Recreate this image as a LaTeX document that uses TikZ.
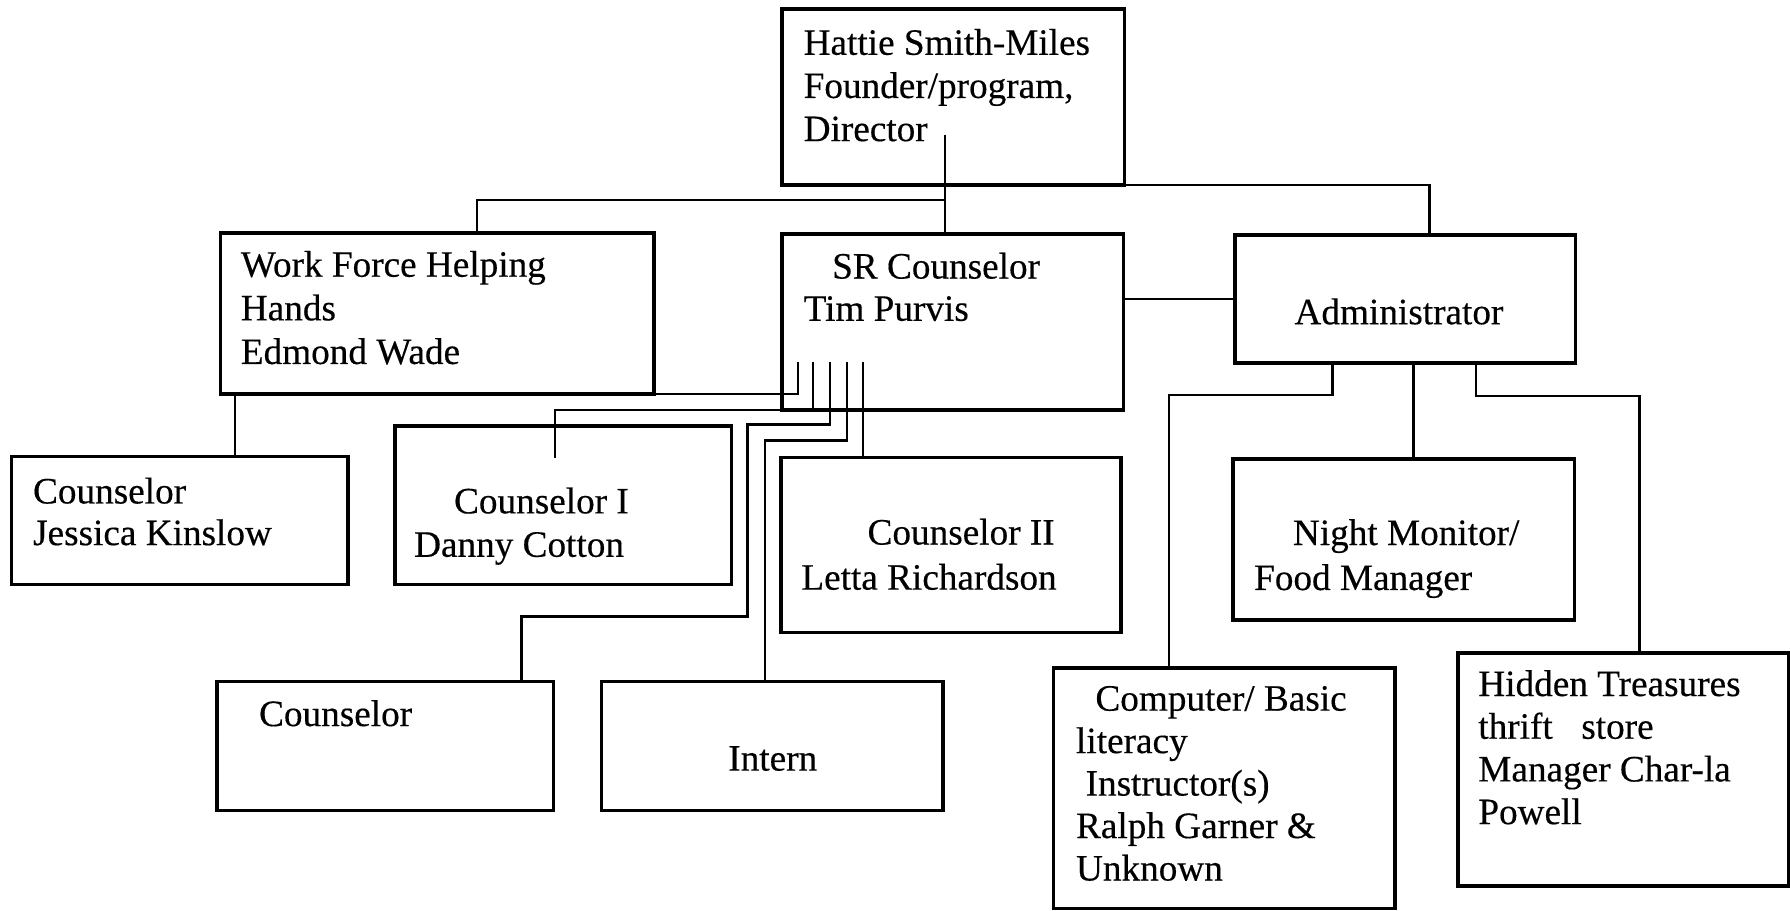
\documentclass[tikz,border=0pt]{standalone}
\usepackage{fontspec}
\setmainfont{Liberation Serif}[FakeBold=0.35,AutoFakeBold=0.35,UprightFeatures={FakeBold=0.35}]
\usetikzlibrary{fit}
\newcommand\mlines[2][19pt]{\vtop{\baselineskip=#1\lineskiplimit=-\maxdimen\lineskip=0pt #2}}
\begin{document}
\begin{tikzpicture}[x=0.5pt,y=-0.5pt,
  box/.style={draw, line width=1.5pt, inner sep=0pt, outer sep=0pt},
  conn/.style={line width=1.1pt},
  txt/.style={inner sep=0pt, outer sep=0pt, anchor=base west, font=\fontsize{16.3pt}{19pt}\selectfont}]
\useasboundingbox[fill=white] (0,0) rectangle (1568,798);

% boxes
\node[box, fit={(685,8) (985,162)}] (hattie) {};
\node[box, fit={(193,204) (573,345)}] (wf) {};
\node[box, fit={(685,205) (984,359)}] (sr) {};
\node[box, fit={(1082,206) (1380,318)}] (adm) {};
\node[box, fit={(10,400) (305,512)}] (cj) {};
\node[box, fit={(346,373) (641,512)}] (c1) {};
\node[box, fit={(684,401) (982,554)}] (c2) {};
\node[box, fit={(1080,402) (1379,543)}] (nm) {};
\node[box, fit={(190,597) (485,710)}] (cb) {};
\node[box, fit={(527,597) (826,710)}] (intern) {};
\node[box, fit={(923,585) (1222,796)}] (comp) {};
\node[box, fit={(1277,572) (1567,776)}] (ht) {};

% texts
\node[txt] (hattie-t) at (704,48) {\mlines[18.9pt]{\hbox{Hattie Smith-Miles}\hbox{Founder/program,}\hbox{Director}}};
\node[txt] (wf-t) at (211,242.4) {\mlines[19.1pt]{\hbox{Work Force Helping}\hbox{Hands}\hbox{Edmond Wade}}};
\node[txt] (sr-t) at (704,244) {\mlines[18.5pt]{\hbox{\hskip12.5pt SR Counselor}\hbox{Tim Purvis}}};
\node[txt] (adm-t) at (1134,284) {Administrator};
\node[txt] (cj-t) at (29,441) {\mlines[18.25pt]{\hbox{Counselor}\hbox{Jessica Kinslow}}};
\node[txt] (c1-t) at (362.8,449.7) {\mlines[19pt]{\hbox{\hskip17.5pt Counselor I}\hbox{Danny Cotton}}};
\node[txt] (c2-t) at (702,477) {\mlines[19.75pt]{\hbox{\hskip29pt Counselor II}\hbox{Letta Richardson}}};
\node[txt] (nm-t) at (1098.6,477.4) {\mlines[19.7pt]{\hbox{\hskip17pt Night Monitor/}\hbox{Food Manager}}};
\node[txt] (cb-t) at (227,636) {Counselor};
\node[txt] (intern-t) at (638,675) {Intern};
\node[txt] (comp-t) at (942.6,622.5) {\mlines[18.6pt]{\hbox{\hskip8.5pt Computer/ Basic}\hbox{literacy}\hbox{\hskip4.2pt Instructor(s)}\hbox{Ralph Garner \&}\hbox{Unknown}}};
\node[txt] (ht-t) at (1295,609.7) {\mlines[18.7pt]{\hbox{Hidden Treasures}\hbox{thrift\hskip12.5pt store}\hbox{Manager Char-la}\hbox{Powell}}};

% connector start points
\coordinate (hs) at (828,118);
\coordinate (f1) at (699,317);
\coordinate (f2) at (712,317);
\coordinate (f3) at (727,317);
\coordinate (f4) at (742,317);
\coordinate (f5) at (756,317);
\coordinate (c1stub) at (486,401);

% top level
\draw[conn] (hs) -- (hs |- sr.north);
\draw[conn] (hs |- 0,175) -| (418,0 |- wf.north);
\draw[conn] (hattie.south east) -| (1252,0 |- adm.north);
\draw[conn] (sr.east |- 0,262) -- (adm.west |- 0,262);
\draw[conn] (206,0 |- wf.south) -- (206,0 |- cj.north);

% fan from SR counselor
\draw[conn] (f1) |- (wf.south east);
\draw[conn] (f2) |- (486,0 |- sr.south) -- (c1stub);
\draw[conn] (f3) |- (655,372) |- (457,540) -- (457,0 |- cb.north);
\draw[conn] (f4) |- (670,386) -- (670,0 |- intern.north);
\draw[conn] (f5) -- (f5 |- c2.north);

% administrator
\draw[conn] (1167,0 |- adm.south) |- (1024,346) -- (1024,0 |- comp.north);
\draw[conn] (1238,0 |- adm.south) -- (1238,0 |- nm.north);
\draw[conn] (1293,0 |- adm.south) |- (1436,347) -- (1436,0 |- ht.north);
\end{tikzpicture}
\end{document}
